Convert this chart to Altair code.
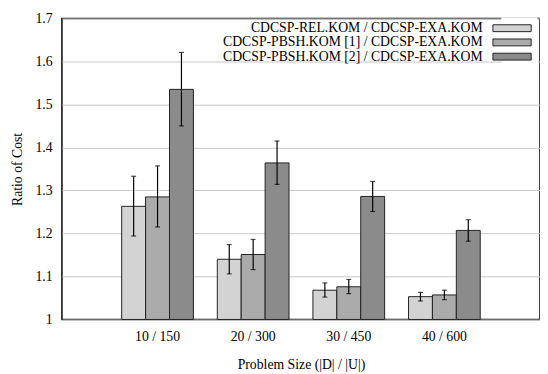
import altair as alt
import pandas as pd

groups = ["10 / 150", "20 / 300", "30 / 450", "40 / 600"]
series = [
    "CDCSP-REL.KOM / CDCSP-EXA.KOM",
    "CDCSP-PBSH.KOM [1] / CDCSP-EXA.KOM",
    "CDCSP-PBSH.KOM [2] / CDCSP-EXA.KOM",
]
rel_mean = [1.263, 1.140, 1.068, 1.053]
rel_lo = [1.194, 1.106, 1.052, 1.043]
rel_hi = [1.333, 1.174, 1.085, 1.063]
pb1_mean = [1.285, 1.151, 1.076, 1.057]
pb1_lo = [1.215, 1.116, 1.060, 1.046]
pb1_hi = [1.357, 1.186, 1.093, 1.068]
pb2_mean = [1.535, 1.364, 1.286, 1.207]
pb2_lo = [1.450, 1.314, 1.251, 1.182]
pb2_hi = [1.621, 1.415, 1.321, 1.232]
y_ticks = [1.0, 1.1, 1.2, 1.3, 1.4, 1.5, 1.6, 1.7]
colors = ["#d3d3d3", "#ababab", "#8b8b8b"]

rows = []
for s, m, lo, hi in zip(series, [rel_mean, pb1_mean, pb2_mean],
                        [rel_lo, pb1_lo, pb2_lo], [rel_hi, pb1_hi, pb2_hi]):
    for g, mv, lv, hv in zip(groups, m, lo, hi):
        rows.append({"group": g, "series": s, "mean": mv, "lo": lv, "hi": hv})
df = pd.DataFrame(rows)

FONT = "Liberation Serif"

x_enc = alt.X("group:N", sort=groups,
              scale=alt.Scale(paddingInner=0.25, paddingOuter=0.625),
              axis=alt.Axis(title="Problem Size (|D| / |U|)", labelAngle=0,
                            ticks=False, domain=False, labelPadding=10,
                            titlePadding=15))
xo_enc = alt.XOffset("series:N", sort=series,
                     scale=alt.Scale(paddingInner=0, paddingOuter=0))
y_scale = alt.Scale(domain=[1.0, 1.7], zero=False, nice=False)

base = alt.Chart(df)

bars = base.mark_bar(stroke="#222222", strokeWidth=1).encode(
    x=x_enc,
    xOffset=xo_enc,
    y=alt.Y("mean:Q", scale=y_scale,
            axis=alt.Axis(title="Ratio of Cost", values=y_ticks, format="~g",
                          grid=True, gridColor="#c8c8c8", gridWidth=1,
                          ticks=False, domain=False, labelPadding=10,
                          titlePadding=11)),
    y2=alt.datum(1.0),
    color=alt.Color("series:N", sort=series,
                    scale=alt.Scale(domain=series, range=colors),
                    legend=alt.Legend(
                        title=None, orient="none", legendX=448, legendY=-1,
                        symbolType="M-3,-0.54L3,-0.54L3,0.54L-3,0.54Z",
                        symbolSize=169, symbolStrokeColor="#222222",
                        symbolStrokeWidth=1, symbolOpacity=1,
                        labelAlign="right", labelOffset={"expr": "-37"},
                        labelFont=FONT, labelFontSize=14, labelColor="#000",
                        labelLimit=500, rowPadding=0.5,
                        fillColor="white", padding=4)),
)

err = base.mark_rule(color="black", strokeWidth=1.2).encode(
    x=alt.X("group:N", sort=groups),
    xOffset=alt.XOffset("series:N", sort=series),
    y=alt.Y("lo:Q", scale=y_scale),
    y2="hi:Q",
)
cap_lo = base.mark_tick(color="black", thickness=1.2, size=5).encode(
    x=alt.X("group:N", sort=groups),
    xOffset=alt.XOffset("series:N", sort=series),
    y=alt.Y("lo:Q", scale=y_scale),
)
cap_hi = base.mark_tick(color="black", thickness=1.2, size=5).encode(
    x=alt.X("group:N", sort=groups),
    xOffset=alt.XOffset("series:N", sort=series),
    y=alt.Y("hi:Q", scale=y_scale),
)

chart = alt.layer(bars, err, cap_lo, cap_hi).properties(
    width=487.5, height=307,
    background="white",
    autosize=alt.AutoSizeParams(type="none"),
    padding={"left": 55, "top": 7, "right": 0, "bottom": 52},
).configure_view(
    stroke="black", strokeWidth=1.5
).configure_axis(
    labelFont=FONT, labelFontSize=14, labelColor="#000",
    titleFont=FONT, titleFontSize=14, titleColor="#000", titleFontWeight="normal",
)

chart.save("out.html", embed_options={"renderer": "svg", "actions": False})
